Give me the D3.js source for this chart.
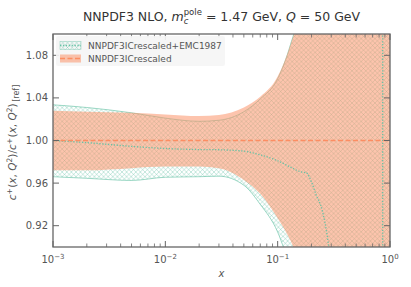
<!DOCTYPE html>
<html>
<head>
<meta charset="utf-8">
<script src="https://cdn.jsdelivr.net/npm/d3@7"></script>
<style>
body { margin: 0; background: #fff; }
text { font-family: "DejaVu Sans", sans-serif; }
</style>
</head>
<body>
<svg class="chart"></svg>
<script>
var width = 411,
    height = 287;
var margin = {top: 34, right: 21, bottom: 40, left: 53};
var w = width - margin.left - margin.right,
    h = height - margin.top - margin.bottom;

// band grid (x) shared by both bands
var xBand = [0.001, 0.002, 0.005, 0.01, 0.02, 0.03, 0.05, 0.07, 0.1, 0.13, 0.15, 0.2, 0.3, 0.5, 0.7, 0.85, 0.9, 1.0];
// NNPDF3ICrescaled (reference) band
var refUpper = [1.028, 1.027, 1.026, 1.0245, 1.023, 1.024, 1.031, 1.041, 1.060, 1.09, 1.112, 1.2, 1.5, 2, 2, 2, 2, 2];
var refLower = [0.972, 0.972, 0.974, 0.9755, 0.9755, 0.974, 0.963, 0.950, 0.927, 0.906, 0.89, 0.85, 0.5, 0, 0, 0, 0, 0];
// NNPDF3ICrescaled+EMC1987 band
var emcUpper = [1.0335, 1.031, 1.026, 1.021, 1.018, 1.019, 1.027, 1.039, 1.058, 1.09, 1.115, 1.25, 1.6, 2, 2, 2, 2, 2];
var emcLower = [0.966, 0.9645, 0.9625, 0.9655, 0.966, 0.9665, 0.958, 0.940, 0.914, 0.88, 0.86, 0.8, 0.4, 0, 0, 0, 0, 0];
// EMC1987 central value
var xCentral = [0.001, 0.002, 0.005, 0.01, 0.02, 0.03, 0.05, 0.07, 0.1, 0.13, 0.16, 0.18, 0.2, 0.22, 0.25, 0.28, 0.4, 0.6, 0.8, 0.85, 0.858, 0.864, 0.95, 1.0];
var emcCentral = [1.000, 0.998, 0.9945, 0.9925, 0.9915, 0.9913, 0.990, 0.9865, 0.981, 0.975, 0.9706, 0.9697, 0.961, 0.949, 0.934, 0.906, 0.7, 0.3, -1, -10, -50, 50, 5, 3];

var yTicks = [0.92, 0.96, 1.00, 1.04, 1.08];
var xTicks = [0.001, 0.01, 0.1, 1];
var xTickExp = ["\u22123", "\u22122", "\u22121", "0"];
var legendLabels = ["NNPDF3ICrescaled+EMC1987", "NNPDF3ICrescaled"];

var teal = "#66c2a5", orange = "#fc8d62", axisColor = "#666", textColor = "#555";

var x = d3.scaleLog().domain([0.001, 1]).range([0, w]);
var y = d3.scaleLinear().domain([0.9, 1.1]).range([h, 0]);

var chart = d3.select(".chart")
    .attr("width", width)
    .attr("height", height);

var defs = chart.append("defs");
var hs = 4.6;
var pat = defs.append("pattern")
    .attr("id", "hatch")
    .attr("patternUnits", "userSpaceOnUse")
    .attr("width", hs).attr("height", hs);
pat.append("path")
    .attr("d", "M0,0L" + hs + "," + hs + "M" + hs + ",0L0," + hs +
      "M-1,1L1,-1M" + (hs - 1) + "," + (hs + 1) + "L" + (hs + 1) + "," + (hs - 1))
    .attr("stroke", teal).attr("stroke-width", 0.5).attr("stroke-opacity", 0.75)
    .attr("fill", "none");
defs.append("clipPath").attr("id", "clip")
  .append("rect").attr("width", w).attr("height", h);

var g = chart.append("g")
    .attr("transform", "translate(" + margin.left + "," + margin.top + ")");
var plot = g.append("g").attr("clip-path", "url(#clip)");

function band(xs, lo, hi) {
  return xs.map(function(d, i) { return {x: d, lo: lo[i], hi: hi[i]}; });
}
var area = d3.area()
    .curve(d3.curveMonotoneX)
    .x(function(d) { return x(d.x); })
    .y0(function(d) { return y(d.lo); })
    .y1(function(d) { return y(d.hi); });
var edge = function(key) {
  return d3.line().curve(d3.curveMonotoneX)
    .x(function(d) { return x(d.x); })
    .y(function(d) { return y(d[key]); });
};

var emc = band(xBand, emcLower, emcUpper);
var ref = band(xBand, refLower, refUpper);

plot.append("path").datum(emc).attr("d", area).attr("fill", "url(#hatch)");
["lo", "hi"].forEach(function(k) {
  plot.append("path").datum(emc).attr("d", edge(k))
      .attr("fill", "none").attr("stroke", teal).attr("stroke-width", 0.8)
      .attr("stroke-opacity", 0.8);
});
plot.append("path").datum(ref).attr("d", area)
    .attr("fill", orange).attr("fill-opacity", 0.52);

// central lines
plot.append("path")
    .datum(xCentral.map(function(d, i) { return {x: d, v: emcCentral[i]}; }))
    .attr("d", edge("v"))
    .attr("fill", "none").attr("stroke", teal).attr("stroke-width", 1.3)
    .attr("stroke-dasharray", "1.3,1.6");
plot.append("line")
    .attr("x1", x(0.001)).attr("x2", x(1))
    .attr("y1", y(1)).attr("y2", y(1))
    .attr("stroke", orange).attr("stroke-width", 1.3)
    .attr("stroke-dasharray", "5,2.5");

// frame
g.append("rect").attr("width", w).attr("height", h)
    .attr("fill", "none").attr("stroke", axisColor).attr("stroke-width", 1.3);

// ticks
var minor = [];
[0.001, 0.01, 0.1].forEach(function(d) {
  for (var k = 2; k <= 9; k++) minor.push(d * k);
});
xTicks.forEach(function(d) {
  g.append("line").attr("x1", x(d)).attr("x2", x(d)).attr("y1", h).attr("y2", h - 6)
      .attr("stroke", axisColor).attr("stroke-width", 1);
  g.append("line").attr("x1", x(d)).attr("x2", x(d)).attr("y1", 0).attr("y2", 6)
      .attr("stroke", axisColor).attr("stroke-width", 1);
});
minor.forEach(function(d) {
  g.append("line").attr("x1", x(d)).attr("x2", x(d)).attr("y1", h).attr("y2", h - 3.5)
      .attr("stroke", axisColor).attr("stroke-width", 0.8);
  g.append("line").attr("x1", x(d)).attr("x2", x(d)).attr("y1", 0).attr("y2", 3.5)
      .attr("stroke", axisColor).attr("stroke-width", 0.8);
});
yTicks.forEach(function(d) {
  g.append("line").attr("x1", 0).attr("x2", 6).attr("y1", y(d)).attr("y2", y(d))
      .attr("stroke", axisColor).attr("stroke-width", 1);
  g.append("line").attr("x1", w).attr("x2", w - 6).attr("y1", y(d)).attr("y2", y(d))
      .attr("stroke", axisColor).attr("stroke-width", 1);
  g.append("text").attr("x", -5).attr("y", y(d)).attr("dy", "0.35em")
      .attr("text-anchor", "end").attr("font-size", 10).attr("fill", textColor)
      .text(d3.format(".2f")(d));
});
xTicks.forEach(function(d, i) {
  var t = g.append("text").attr("x", x(d)).attr("y", h + 16)
      .attr("text-anchor", "middle").attr("font-size", 10).attr("fill", textColor);
  t.append("tspan").text("10");
  t.append("tspan").attr("dy", -4.5).attr("font-size", 7).text(xTickExp[i]);
});

// x label
g.append("text").attr("x", w / 2).attr("y", h + 30)
    .attr("text-anchor", "middle").attr("font-size", 10).attr("fill", textColor)
    .attr("font-style", "italic").text("x");

// y label
var yl = g.append("text")
    .attr("transform", "translate(" + (-37) + "," + (h / 2 + 2) + ") rotate(-90)")
    .attr("text-anchor", "middle").attr("font-size", 10.5).attr("fill", textColor);
function piece(sel, txt, opt) {
  opt = opt || {};
  var s = sel.append("tspan").text(txt);
  if (opt.it) s.attr("font-style", "italic");
  if (opt.fs) s.attr("font-size", opt.fs);
  if (opt.dy) s.attr("dy", opt.dy);
  if (opt.dx) s.attr("dx", opt.dx);
  return s;
}
piece(yl, "c", {it: 1});
piece(yl, "+", {fs: 7.5, dy: -4});
piece(yl, "(", {dy: 4, dx: 0.5});
piece(yl, "x", {it: 1});
piece(yl, ", ");
piece(yl, "Q", {it: 1});
piece(yl, "2", {fs: 7.5, dy: -4});
piece(yl, ")/", {dy: 4});
piece(yl, "c", {it: 1});
piece(yl, "+", {fs: 7.5, dy: -4});
piece(yl, "(", {dy: 4, dx: 0.5});
piece(yl, "x", {it: 1});
piece(yl, ", ");
piece(yl, "Q", {it: 1});
piece(yl, "2", {fs: 7.5, dy: -4});
piece(yl, ")", {dy: 4});
piece(yl, "[ref]", {fs: 8, dy: 2.5, dx: 1.5});

// title
var tt = chart.append("text").attr("x", margin.left + w / 2).attr("y", 21)
    .attr("text-anchor", "middle").attr("font-size", 12.5).attr("fill", "#333");
piece(tt, "NNPDF3 NLO, ");
piece(tt, "m", {it: 1});
var sub = piece(tt, "c", {it: 1, fs: 8.5, dy: 3});
var cw = sub.node().getComputedTextLength();
piece(tt, "pole", {fs: 8.5, dy: -9, dx: -cw});
piece(tt, " = 1.47 GeV, ", {dy: 6});
piece(tt, "Q", {it: 1});
piece(tt, " = 50 GeV");

// legend
var lg = g.append("g").attr("transform", "translate(3,2)");
lg.append("rect").attr("width", 169).attr("height", 30)
    .attr("fill", "#f5f5f5").attr("fill-opacity", 0.9).attr("rx", 2);
legendLabels.forEach(function(lab, i) {
  var cy = 9.5 + i * 13;
  var row = lg.append("g");
  if (i === 0) {
    row.append("rect").attr("x", 4).attr("y", cy - 4).attr("width", 21).attr("height", 8)
        .attr("fill", "url(#hatch)").attr("stroke", teal).attr("stroke-width", 0.6)
        .attr("stroke-opacity", 0.6);
    row.append("line").attr("x1", 4).attr("x2", 25).attr("y1", cy).attr("y2", cy)
        .attr("stroke", teal).attr("stroke-width", 1.3).attr("stroke-dasharray", "1.3,1.6");
  } else {
    row.append("rect").attr("x", 4).attr("y", cy - 4).attr("width", 21).attr("height", 8)
        .attr("fill", orange).attr("fill-opacity", 0.52);
    row.append("line").attr("x1", 4).attr("x2", 25).attr("y1", cy).attr("y2", cy)
        .attr("stroke", orange).attr("stroke-width", 1.3).attr("stroke-dasharray", "5,2.5");
  }
  row.append("text").attr("x", 32).attr("y", cy).attr("dy", "0.35em")
      .attr("font-size", 9).attr("fill", textColor).text(lab);
});
</script>
</body>
</html>
